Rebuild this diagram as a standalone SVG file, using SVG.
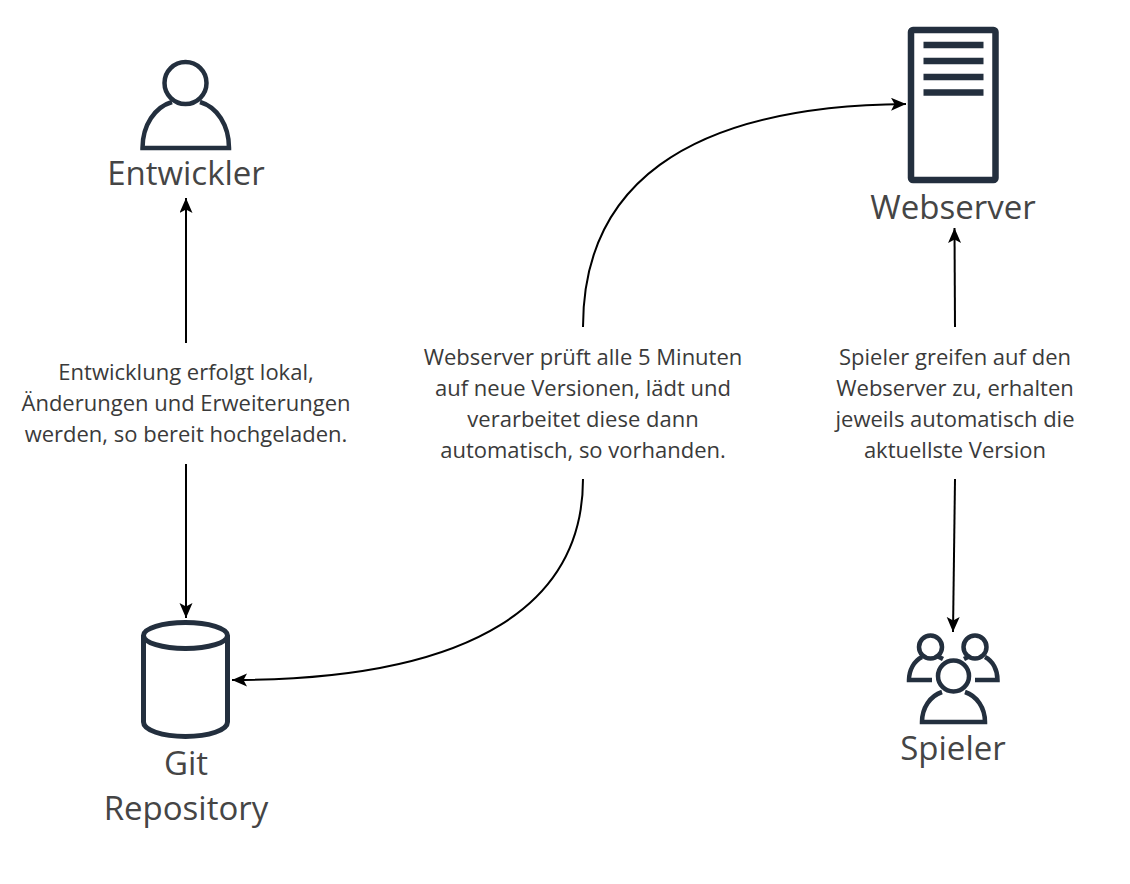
<svg xmlns="http://www.w3.org/2000/svg" width="1130" height="884" viewBox="0 0 1130 884">
<style>
text{font-family:"Open Sans","Noto Sans",sans-serif;fill:#3a3a3a;text-anchor:middle}
.t{font-size:33px;fill:#454545}
.b{font-size:22px}
.i{fill:none;stroke:#232f3e;stroke-width:4.5}
.c{fill:none;stroke:#000;stroke-width:2}
</style>
<defs><marker id="a" markerUnits="userSpaceOnUse" markerWidth="18" markerHeight="14" refX="15" refY="6.500" orient="auto"><path d="M0 0L15 6.500L0 13L3.500 6.500Z" fill="#000"/></marker></defs>
<rect width="1130" height="884" fill="#fff"/>
<g id="connectors">
<path class="c" marker-end="url(#a)" d="M186 343V198"/>
<path class="c" marker-end="url(#a)" d="M186 464V618"/>
<path class="c" marker-end="url(#a)" d="M583 327C583 190 680 106 906 104"/>
<path class="c" marker-end="url(#a)" d="M583 479C583 600 480 680 232 680"/>
<path class="c" marker-end="url(#a)" d="M955 327L954.500 228"/>
<path class="c" marker-end="url(#a)" d="M955 479L953 632"/>
</g>
<g id="entwickler">
<circle class="i" cx="185.500" cy="83" r="21"/>
<path class="i" d="M172 102C155 107 142.500 125 142.500 148H229C229 125 217 107 200 102"/>
<text class="t" x="186" y="185">Entwickler</text>
</g>
<g id="webserver">
<rect x="911" y="30" width="84.500" height="150" rx="2" fill="none" stroke="#232f3e" stroke-width="6.500"/>
<path d="M923.500 45H983.500M923.500 61H983.500M923.500 77H983.500M923.500 92.500H983.500" fill="none" stroke="#232f3e" stroke-width="6.500"/>
<text class="t" x="953" y="219">Webserver</text>
</g>
<g id="spieler">
<circle class="i" cx="953.500" cy="676" r="15.500"/>
<circle class="i" cx="930.500" cy="647" r="11.500"/>
<circle class="i" cx="975" cy="647" r="11.500"/>
<path class="i" d="M942 692C930 696 922 708 922 722H985C985 708 977 696 965 692"/>
<path class="i" d="M922 657C914 661 909 670 909 680H932M943 659L938 656.500M985 657C993 661 997.500 670 997.500 680H975M964 659L969 656.500"/>
<text class="t" x="953" y="760">Spieler</text>
</g>
<g id="git">
<ellipse cx="185.500" cy="635.500" rx="42" ry="13" fill="none" stroke="#232f3e" stroke-width="5"/>
<path d="M143.500 635.500V722C143.500 730 162 736.500 185.500 736.500S227.500 730 227.500 722V635.500" fill="none" stroke="#232f3e" stroke-width="5"/>
<text class="t" x="186" y="775">Git</text>
<text class="t" x="186" y="820">Repository</text>
</g>
<g id="labels">
<text class="b" x="186" y="379.500">Entwicklung erfolgt lokal,</text>
<text class="b" x="186" y="410.500">Änderungen und Erweiterungen</text>
<text class="b" x="186" y="441.500">werden, so bereit hochgeladen.</text>
<text class="b" x="583" y="364.500">Webserver prüft alle 5 Minuten</text>
<text class="b" x="583" y="395.500">auf neue Versionen, lädt und</text>
<text class="b" x="583" y="426.500">verarbeitet diese dann</text>
<text class="b" x="583" y="457.500">automatisch, so vorhanden.</text>
<text class="b" x="955" y="364.500">Spieler greifen auf den</text>
<text class="b" x="955" y="395.500">Webserver zu, erhalten</text>
<text class="b" x="955" y="426.500">jeweils automatisch die</text>
<text class="b" x="955" y="457.500">aktuellste Version</text>
</g>
</svg>
